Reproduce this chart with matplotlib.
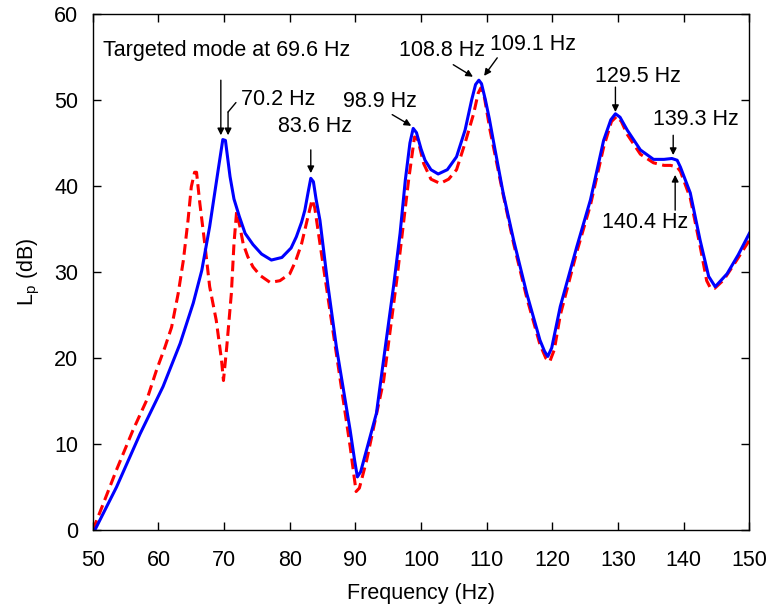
import numpy as np
import matplotlib
matplotlib.use("Agg")
import matplotlib.pyplot as plt

plt.rcParams['font.family'] = ['Liberation Sans', 'DejaVu Sans']
plt.rcParams['font.size'] = 15.5

#%% data

# blue solid curve
freq_blue = [50.3, 53.6, 57.2, 60.7, 63.3, 65.3, 66.6, 67.8, 69.1, 69.8, 70.2, 70.9, 71.5, 72.3,
             73.2, 74.4, 75.7, 77.2, 78.8, 80.2, 81.0, 81.8, 82.3, 82.8, 83.2, 83.6, 84.0, 84.6,
             85.8, 87.1, 89.2, 89.9, 90.3, 90.8, 93.2, 94.5, 95.8, 96.8,
             97.6, 98.3, 98.8, 99.3, 100.0, 100.6, 101.5, 102.6, 104, 105.4, 106.7, 107.7, 108.3,
             108.8, 109.2, 109.8, 110.4, 111.0, 112.5, 114.1, 116.1, 118.1, 118.8, 119.3, 119.9,
             121.2, 123.7, 125.8, 127.8, 128.9, 129.6, 130.3, 131.4, 133.4, 135.4, 137, 138.2,
             139.0, 139.5, 141.0, 142.5, 143.8, 144.8, 146.6, 148.3, 150]
lp_blue = [0, 5, 11.2, 16.7, 21.7, 26.4, 30.2, 35.3, 41.9, 45.4, 45.3, 41.1, 38.5, 36.5,
           34.5, 33.2, 32.1, 31.4, 31.7, 32.8, 34.1, 35.8, 37.2, 39.3, 40.9, 40.5, 38.5, 36,
           28.5, 21.3, 11.6, 8.0, 6.2, 6.8, 13.6, 21, 28.3, 34.5,
           40.7, 45, 46.7, 46.2, 44.3, 43, 41.9, 41.4, 41.9, 43.4, 46.5, 50, 51.8,
           52.3, 51.9, 50, 47.8, 45.3, 39.2, 33.7, 27.5, 22.1, 20.8, 20.2, 21.2,
           26, 32.9, 38.4, 45.3, 47.7, 48.4, 48, 46.5, 44.2, 43.1, 43.1, 43.2,
           43.0, 42.2, 39.2, 33.7, 29.5, 28.3, 29.8, 32, 34.5]

# red dashed curve
freq_red = [50, 51.6, 53.6, 56.1, 58.2, 59.7, 61.0, 62.0, 63.0, 63.8, 64.5, 65.0, 65.5, 65.8,
            66.3, 67.1, 67.8, 68.8, 69.6, 69.9, 70.4, 71.1, 71.5, 71.9, 72.4, 72.9, 73.6, 74.4,
            75.5, 77, 78.5, 80, 80.9, 81.8, 82.7, 83.4, 83.8, 84.6, 87.1, 89.2, 90.1, 90.6,
            91.7, 94.3, 96.3, 98.1, 99.0, 99.5, 100.4, 101.5, 102.9, 104.2, 105.4, 106.7, 108,
            108.7, 109.1, 109.6, 110.5, 112.5, 114.1, 116.1, 118.1, 119.0, 119.6, 120.3, 121.2,
            123.7, 125.8, 127.8, 129.0, 129.8, 130.5, 131.4, 133.4, 135.4, 137, 138, 139, 139.5,
            141.0, 142.5, 143.5, 144.1, 144.7, 146.1, 148, 150]
lp_red = [0, 3.1, 7, 11.6, 15.1, 18.6, 21.3, 23.6, 27.5, 31.4, 36, 39.9, 41.6, 41.6,
          38, 33, 28.3, 24.4, 19.8, 17.4, 21.3, 27.5, 33.3, 37, 35.3, 33.3, 31.8, 30.6,
          29.6, 28.8, 29, 29.8, 31.3, 33.3, 36.2, 38.4, 37.5, 33.3, 20.5, 9.7, 4.5, 4.9,
          8.1, 17.4, 29.1, 40.7, 45.7, 45.4, 42.6, 40.8, 40.3, 40.8, 41.9, 45, 48.4,
          50.8, 51.4, 50.5, 46.5, 39, 33.3, 27, 21.6, 20, 19.6, 21, 25,
          32.3, 37.8, 44.5, 47.5, 48.1, 47.5, 46, 43.7, 42.7, 42.4, 42.4, 42.2, 41.7,
          38.6, 33, 29, 28.1, 28.1, 29.1, 31.3, 33.7]

x_ticks = [50, 60, 70, 80, 90, 100, 110, 120, 130, 140, 150]
y_ticks = [0, 10, 20, 30, 40, 50, 60]

#%% plot

fig = plt.figure(figsize=(7.67, 6.06), dpi=100)
ax = fig.add_axes([0.121, 0.125, 0.856, 0.852])

ax.plot(freq_red, lp_red, color='#ff0000', lw=2.2, dashes=(3.5, 1.8),
        solid_joinstyle='round', dash_joinstyle='round')
ax.plot(freq_blue, lp_blue, color='#0000ff', lw=2.2, solid_joinstyle='round')

ax.set_xlim(50, 150)
ax.set_ylim(0, 60)
ax.set_xticks(x_ticks)
ax.set_yticks(y_ticks)
ax.tick_params(direction='in', length=6, width=1, top=True, right=True)
ax.tick_params(axis='x', pad=14.5)
ax.tick_params(axis='y', pad=10.5)
for sp in ax.spines.values():
    sp.set_linewidth(1.0)

ax.set_xlabel("Frequency (Hz)", labelpad=8.5)
ax.set_ylabel(r"L$_{\mathregular{p}}$ (dB)", labelpad=9)

arr = dict(arrowstyle='-|>', color='k', lw=1, mutation_scale=10, shrinkA=0, shrinkB=0)

# (label, text pos, arrow tail, arrow tip)
notes = [
    ("Targeted mode at 69.6 Hz", (70.4, 55.8), (69.5, 52.3), (69.5, 45.9)),
    ("70.2 Hz", (78.2, 50.0), (70.6, 48.6), (70.6, 45.9)),
    ("83.6 Hz", (83.8, 46.9), (83.2, 44.2), (83.2, 41.5)),
    ("98.9 Hz", (93.75, 49.8), (95.6, 48.3), (98.5, 47.0)),
    ("108.8 Hz", (103.2, 55.8), (104.9, 54.1), (107.9, 52.7)),
    ("109.1 Hz", (117.1, 56.4), (111.6, 54.9), (109.6, 52.8)),
    ("129.5 Hz", (133.1, 52.7), (129.6, 51.5), (129.6, 48.6)),
    ("139.3 Hz", (141.8, 47.7), (138.4, 45.9), (138.4, 43.6)),
    ("140.4 Hz", (134.1, 35.8), (138.7, 37.2), (138.7, 41.3)),
]
for label, tpos, tail, tip in notes:
    ax.text(tpos[0], tpos[1], label, ha='center', va='center')
    ax.annotate('', xy=tip, xytext=tail, arrowprops=arr)

# small kink on the 70.2 Hz pointer
ax.annotate('', xy=(70.6, 48.6), xytext=(71.8, 49.7),
            arrowprops=dict(arrowstyle='-', color='k', lw=1, shrinkA=0, shrinkB=0))

fig.savefig("out.png", dpi=100)
